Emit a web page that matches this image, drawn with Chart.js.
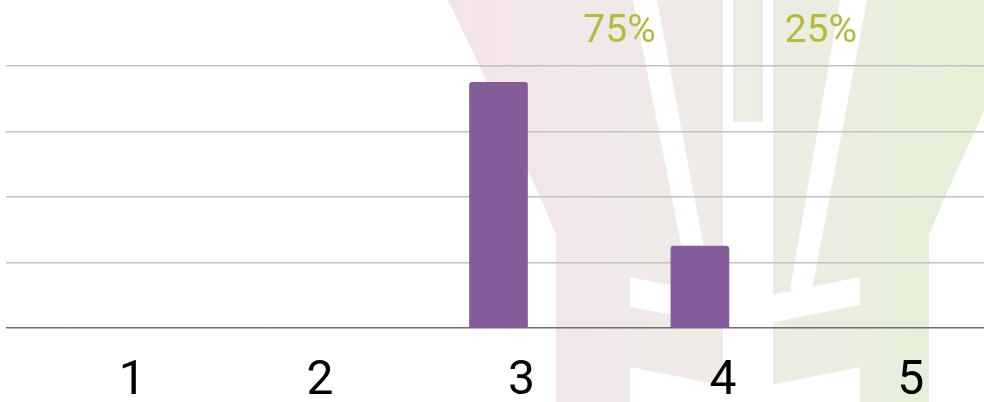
<!DOCTYPE html>
<html>
<head>
<meta charset="utf-8">
<script src="https://cdn.jsdelivr.net/npm/chart.js@4/dist/chart.umd.min.js"></script>
<style>
  html, body { margin: 0; padding: 0; background: #fff; overflow: hidden; }
  #page { position: relative; width: 984px; height: 402px; overflow: hidden; }
  #wrap { position: absolute; left: -6px; top: 0; width: 1008px; height: 436px; }
</style>
</head>
<body>
<div id="page"><div id="wrap"><canvas id="myChart"></canvas></div></div>
<script>
// data
var categories = ['1', '2', '3', '4', '5'];
var shares = [0, 0, 75, 25, 0];   // percent of answers
var yTicks = [0, 20, 40, 60, 80];

var purple = '#835c99';
var olive = '#b6b93b';

// canvas sits 6px left of the page, so page x = canvas x - 6
var SHIFT = 6;

// faded logo behind the chart
var watermark = {
  id: 'watermark',
  beforeDraw: function(chart) {
    var ctx = chart.ctx;
    ctx.save();
    ctx.translate(SHIFT, 0);
    var g = ctx.createLinearGradient(448, 0, 1037, 0);
    g.addColorStop(0, '#f4e3ec');
    g.addColorStop(0.45, '#eeebe7');
    g.addColorStop(0.8, '#e7efda');
    g.addColorStop(1, '#e4f0d4');
    ctx.fillStyle = g;
    ctx.beginPath();
    ctx.moveTo(448, 0);
    ctx.lineTo(1037, 0);
    ctx.quadraticCurveTo(955, 170, 929, 235);
    ctx.lineTo(929, 436);
    ctx.lineTo(556, 436);
    ctx.lineTo(556, 235);
    ctx.quadraticCurveTo(530, 170, 448, 0);
    ctx.fill();

    var poly = function(pts) {
      ctx.beginPath();
      ctx.moveTo(pts[0][0], pts[0][1]);
      for (var i = 1; i < pts.length; i++) ctx.lineTo(pts[i][0], pts[i][1]);
      ctx.closePath();
      ctx.fill();
    };
    ctx.fillStyle = '#fff';
    poly([[633, 0], [657, 0], [712, 290], [690, 290]]);
    poly([[840, 0], [867, 0], [812, 290], [790, 290]]);
    poly([[723, 0], [773, 0], [773, 436], [723, 436]]);
    poly([[630, 277], [745, 300], [860, 277], [860, 305], [745, 328], [630, 307]]);
    poly([[630, 367], [745, 390], [860, 367], [860, 436], [630, 436]]);
    ctx.fillStyle = g;
    ctx.fillRect(733, 0, 30, 122);
    ctx.restore();
  }
};

// grid and axis line start 6px in from the left edge
var leftGap = {
  id: 'leftGap',
  beforeDatasetsDraw: function(chart) {
    var ctx = chart.ctx;
    ctx.save();
    ctx.fillStyle = '#fff';
    ctx.fillRect(0, 0, SHIFT + 6, chart.chartArea.bottom + 2);
    ctx.restore();
  }
};

// percent text, shifted right of each bar like the original
var shareLabels = {
  id: 'shareLabels',
  afterDatasetsDraw: function(chart) {
    var ctx = chart.ctx;
    var meta = chart.getDatasetMeta(0);
    ctx.save();
    ctx.font = '400 39px Roboto';
    ctx.fillStyle = olive;
    ctx.textAlign = 'center';
    ctx.textBaseline = 'alphabetic';
    meta.data.forEach(function(bar, i) {
      if (!shares[i]) return;
      ctx.fillText(shares[i] + '%', bar.x + 121, chart.chartArea.top - 24);
    });
    ctx.restore();
  }
};

var config = {
  type: 'bar',
  data: {
    labels: categories,
    datasets: [{
      data: shares,
      backgroundColor: purple,
      borderRadius: 3,
      barThickness: 58
    }]
  },
  options: {
    responsive: true,
    maintainAspectRatio: false,
    animation: false,
    layout: { padding: { top: 66, left: 1, right: 0, bottom: 0 } },
    plugins: {
      legend: { display: false },
      tooltip: { enabled: false }
    },
    scales: {
      x: {
        grid: { display: false, drawTicks: false },
        border: { display: true, color: '#6e6e6e', width: 1.5 },
        ticks: {
          color: '#000',
          font: { family: 'Roboto', size: 48, lineHeight: 1 },
          padding: 30,
          labelOffset: 23,
          align: 'inner',
          maxRotation: 0
        }
      },
      y: {
        min: yTicks[0],
        max: yTicks[yTicks.length - 1],
        afterBuildTicks: function(axis) {
          axis.ticks = yTicks.map(function(v) { return { value: v }; });
        },
        grid: {
          drawTicks: false,
          lineWidth: 1.5,
          color: function(c) { return c.tick && c.tick.value === 0 ? 'rgba(0,0,0,0)' : '#c2c2c2'; }
        },
        border: { display: false },
        ticks: { display: false }
      }
    }
  },
  plugins: [watermark, leftGap, shareLabels]
};

var can = document.getElementById('myChart');
var ctx = can.getContext('2d');
var myChart = new Chart(ctx, config);
</script>
</body>
</html>
